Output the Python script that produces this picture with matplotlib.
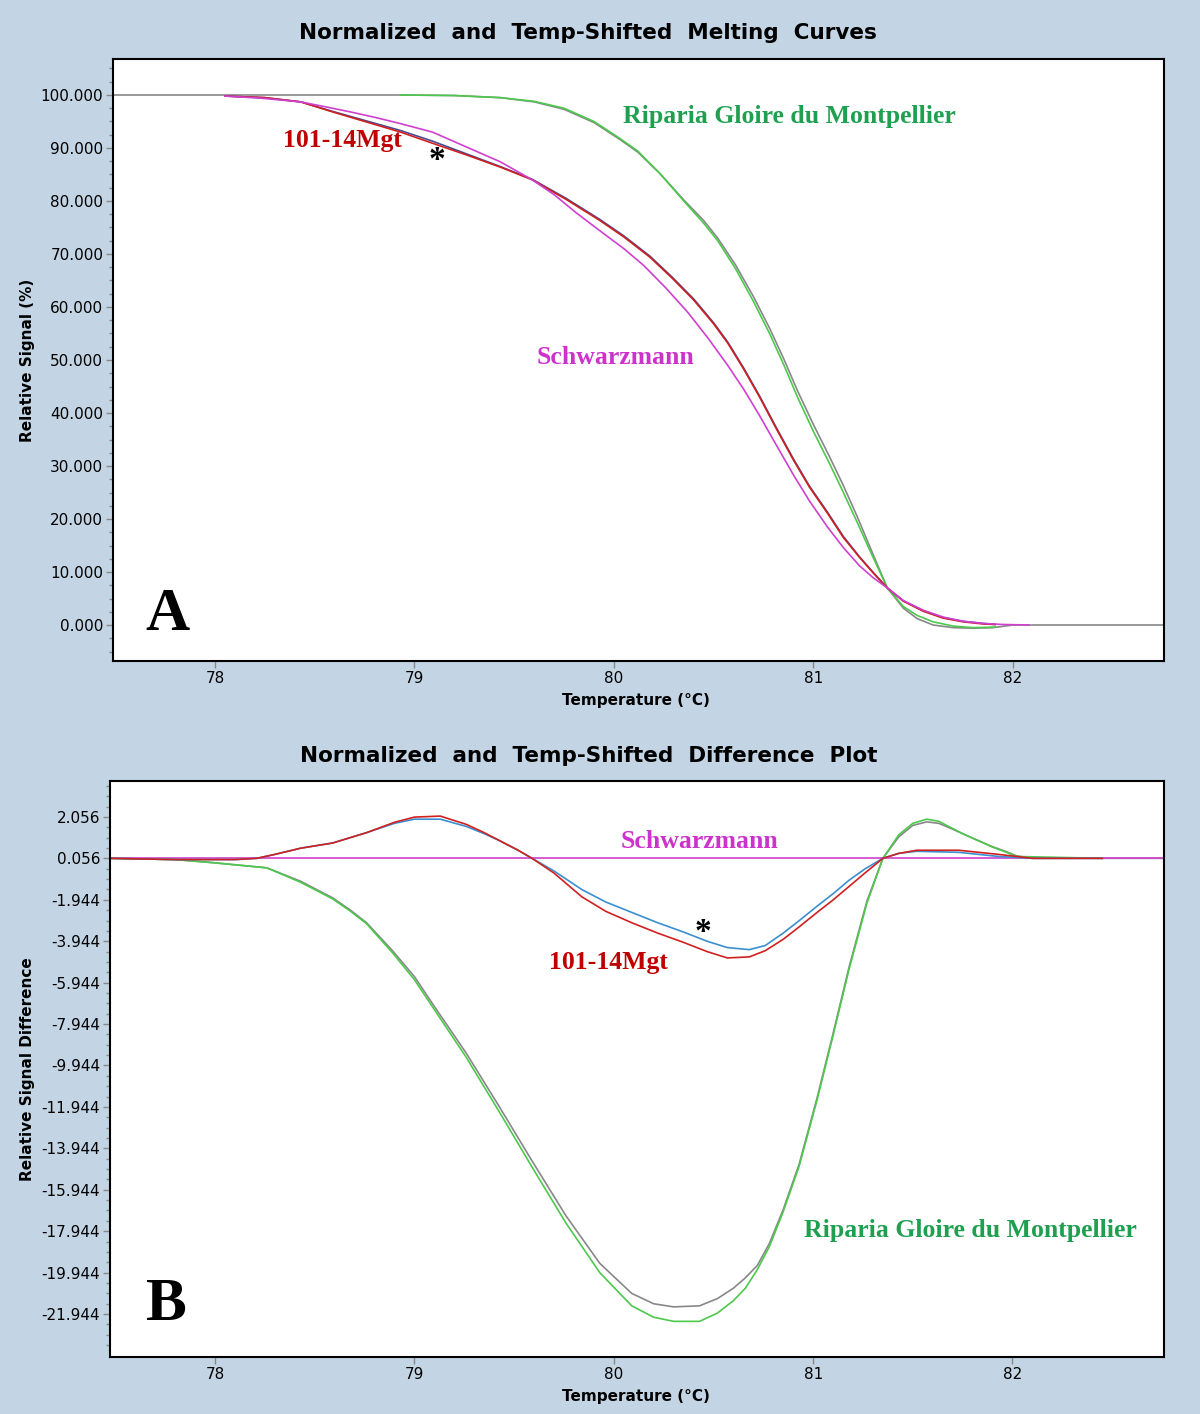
import numpy as np
import matplotlib
matplotlib.use("Agg")
import matplotlib.pyplot as plt
from matplotlib.ticker import MultipleLocator, FixedLocator, FormatStrFormatter

# ---- top panel: normalized melting curves (temperature, relative signal %) ----
rip_t = [78.93, 79.20, 79.43, 79.60, 79.75, 79.90, 80.03, 80.12, 80.23, 80.35, 80.45, 80.52,
         80.61, 80.70, 80.78, 80.85, 80.92, 81.00, 81.08, 81.15, 81.22, 81.28, 81.37, 81.45,
         81.52, 81.60, 81.70, 81.80, 81.91]
rip_y = [100.0, 99.9, 99.5, 98.8, 97.5, 95.0, 91.8, 89.4, 85.2, 80.0, 75.8, 72.5,
         67.2, 61.0, 55.0, 49.2, 43.0, 36.5, 30.5, 25.0, 19.3, 14.3, 7.0, 3.5,
         1.8, 0.6, -0.2, -0.5, -0.4]

rip2_t = [77.49, 78.50, 78.93, 79.20, 79.43, 79.60, 79.75, 79.90, 80.03, 80.12, 80.23, 80.35,
          80.45, 80.52, 80.61, 80.70, 80.78, 80.85, 80.92, 81.00, 81.08, 81.15, 81.22, 81.28,
          81.37, 81.45, 81.52, 81.60, 81.70, 81.80, 81.90, 82.00, 82.757]
rip2_y = [100.0, 100.0, 100.0, 99.9, 99.5, 98.7, 97.3, 94.8, 91.6, 89.2, 85.2, 80.2,
          76.3, 73.0, 67.9, 61.9, 56.0, 50.3, 44.2, 37.8, 31.8, 26.3, 20.4, 15.0,
          7.0, 3.2, 1.2, 0.0, -0.5, -0.6, -0.5, 0.0, 0.0]

mgt_t = [78.05, 78.25, 78.43, 78.59, 78.76, 78.93, 79.09, 79.26, 79.43, 79.59, 79.76, 79.93,
         80.05, 80.18, 80.29, 80.40, 80.50, 80.57, 80.65, 80.73, 80.81, 80.90, 80.98, 81.07,
         81.15, 81.23, 81.30, 81.37, 81.45, 81.55, 81.65, 81.75, 81.85, 81.91]
mgt_y = [99.8, 99.5, 98.7, 96.8, 94.9, 93.0, 90.9, 88.7, 86.4, 84.0, 80.3, 76.3,
         73.2, 69.4, 65.5, 61.3, 56.8, 53.2, 48.3, 43.0, 37.3, 31.1, 26.0, 21.1,
         16.5, 12.8, 9.8, 7.0, 4.5, 2.6, 1.3, 0.6, 0.2, 0.1]
mgt2_y = [99.8, 99.5, 98.7, 96.9, 95.1, 93.3, 91.3, 88.9, 86.5, 84.1, 80.5, 76.5,
          73.4, 69.6, 65.7, 61.5, 57.0, 53.4, 48.5, 43.2, 37.5, 31.3, 26.2, 21.3,
          16.7, 12.9, 9.9, 7.0, 4.6, 2.7, 1.4, 0.7, 0.3, 0.1]

sch_t = [78.05, 78.23, 78.43, 78.55, 78.68, 78.80, 78.93, 79.09, 79.26, 79.43, 79.59, 79.70,
         79.81, 79.95, 80.05, 80.15, 80.26, 80.37, 80.47, 80.57, 80.65, 80.73, 80.81, 80.90,
         80.98, 81.07, 81.15, 81.23, 81.30, 81.37, 81.45, 81.55, 81.65, 81.75, 81.85, 81.95, 82.08]
sch_y = [99.8, 99.4, 98.7, 97.8, 96.8, 95.8, 94.6, 93.0, 90.2, 87.4, 84.0, 81.2,
         77.8, 73.8, 71.0, 67.8, 63.6, 59.0, 54.2, 49.0, 44.5, 39.5, 34.2, 28.3,
         23.4, 18.5, 14.6, 11.2, 8.9, 7.0, 4.6, 2.8, 1.5, 0.7, 0.3, 0.1, 0.0]

# ---- bottom panel: difference plot (temperature, relative signal difference) ----
d_sch_t = [77.47, 82.76]
d_sch_y = [0.056, 0.056]

d_red_t = [77.47, 77.80, 78.10, 78.21, 78.30, 78.43, 78.59, 78.76, 78.90, 79.00, 79.13, 79.26,
           79.35, 79.43, 79.52, 79.59, 79.70, 79.84, 79.96, 80.09, 80.22, 80.35, 80.47, 80.57,
           80.68, 80.76, 80.85, 80.93, 81.02, 81.10, 81.18, 81.26, 81.35, 81.43, 81.52, 81.73,
           81.93, 82.10, 82.45]
d_red_y = [0.06, 0.0, 0.0, 0.06, 0.25, 0.55, 0.80, 1.30, 1.80, 2.05, 2.10, 1.70,
           1.30, 0.90, 0.45, 0.06, -0.65, -1.80, -2.50, -3.05, -3.55, -4.00, -4.45, -4.75,
           -4.70, -4.40, -3.85, -3.25, -2.55, -1.95, -1.30, -0.65, 0.06, 0.30, 0.45, 0.45,
           0.25, 0.06, 0.06]
d_blue_y = [0.06, 0.0, 0.0, 0.06, 0.25, 0.55, 0.80, 1.30, 1.75, 1.95, 1.95, 1.60,
            1.25, 0.90, 0.45, 0.06, -0.55, -1.45, -2.05, -2.55, -3.05, -3.50, -3.95, -4.25,
            -4.35, -4.15, -3.55, -2.95, -2.25, -1.65, -1.00, -0.45, 0.06, 0.30, 0.40, 0.35,
            0.15, 0.06, 0.06]

d_rip_t = [77.47, 77.80, 77.99, 78.26, 78.43, 78.59, 78.68, 78.76, 78.89, 79.00, 79.09, 79.26,
           79.43, 79.59, 79.76, 79.93, 80.09, 80.20, 80.30, 80.43, 80.52, 80.60, 80.66, 80.72,
           80.78, 80.85, 80.93, 81.02, 81.10, 81.18, 81.27, 81.35, 81.43, 81.50, 81.57, 81.63,
           81.68, 81.75, 81.82, 81.90, 81.97, 82.02, 82.45]
d_rip_y = [0.06, 0.0, -0.15, -0.40, -1.10, -1.90, -2.50, -3.10, -4.50, -5.80, -7.10, -9.55,
           -12.25, -14.85, -17.55, -19.95, -21.55, -22.10, -22.30, -22.30, -21.90, -21.30, -20.70, -19.80,
           -18.70, -17.00, -14.80, -11.60, -8.50, -5.30, -2.10, 0.06, 1.20, 1.75, 1.95, 1.85,
           1.60, 1.25, 0.95, 0.60, 0.35, 0.15, 0.06]
d_rip2_t = d_rip_t[:-1] + [82.10, 82.76]
d_rip2_y = [0.06, 0.0, -0.15, -0.40, -1.05, -1.85, -2.45, -3.05, -4.40, -5.65, -6.95, -9.35,
            -12.00, -14.55, -17.20, -19.50, -20.95, -21.45, -21.60, -21.55, -21.20, -20.70, -20.20, -19.60,
            -18.55, -16.90, -14.70, -11.50, -8.40, -5.20, -2.00, 0.06, 1.10, 1.65, 1.82, 1.75,
            1.55, 1.25, 0.95, 0.62, 0.38, 0.18, 0.06, 0.06]

ytick_b = [2.056 - 2 * k for k in range(13)]

BG = '#c3d5e4'
C_GREEN = '#4cc94c'
C_GRAY = '#888888'
C_RED = '#d02020'
C_BLUE = '#3a8fd0'
C_MAG = '#d040d0'
T_RED = '#c00000'
T_GREEN = '#1ea050'
T_MAG = '#cc33cc'

fig = plt.figure(figsize=(12, 14.14), dpi=100, facecolor=BG)
ax1 = fig.add_axes([113 / 1200, 1 - 661 / 1414, 1051 / 1200, 602 / 1414])
ax2 = fig.add_axes([110 / 1200, 1 - 1357 / 1414, 1054 / 1200, 576 / 1414])

lw = 1.2
ax1.plot(rip2_t, rip2_y, color=C_GRAY, lw=lw)
ax1.plot(rip_t, rip_y, color=C_GREEN, lw=lw)
ax1.plot(mgt_t, mgt2_y, color='#4a4a90', lw=lw)
ax1.plot(mgt_t, mgt_y, color=C_RED, lw=lw)
ax1.plot(sch_t, sch_y, color=C_MAG, lw=lw)

ax2.plot(d_rip2_t, d_rip2_y, color=C_GRAY, lw=lw)
ax2.plot(d_sch_t, d_sch_y, color=C_MAG, lw=lw)
ax2.plot(d_rip_t, d_rip_y, color=C_GREEN, lw=lw)
ax2.plot(d_red_t, d_blue_y, color=C_BLUE, lw=lw)
ax2.plot(d_red_t, d_red_y, color=C_RED, lw=lw)

ax1.set_xlim(77.489, 82.757)
ax1.set_ylim(-6.79, 106.79)
ax1.yaxis.set_major_locator(MultipleLocator(10))
ax1.yaxis.set_minor_locator(MultipleLocator(2.5))
ax1.yaxis.set_major_formatter(FormatStrFormatter('%.3f'))

ax2.set_xlim(77.473, 82.76)
ax2.set_ylim(-24.021, 3.794)
ax2.yaxis.set_major_locator(FixedLocator(ytick_b))
ax2.yaxis.set_minor_locator(FixedLocator([v + 0.5 * j for v in [-23.944] + ytick_b for j in (1, 2, 3)]))
ax2.yaxis.set_major_formatter(FormatStrFormatter('%.3f'))

for ax in (ax1, ax2):
    ax.set_facecolor('white')
    ax.xaxis.set_major_locator(FixedLocator([78, 79, 80, 81, 82]))
    ax.xaxis.set_major_formatter(FormatStrFormatter('%d'))
    ax.tick_params(which='major', direction='out', length=5, width=1, color=C_GRAY,
                   labelsize=11, labelcolor='black', pad=2)
    ax.tick_params(which='minor', direction='out', length=3, width=1, color=C_GRAY)
    for s in ax.spines.values():
        s.set_linewidth(1.5)
        s.set_color('black')

def ftxt(x, y, s, **kw):
    fig.text(x / 1200, 1 - y / 1414, s, ha='center', va='center', **kw)

title_kw = dict(fontsize=15.5, fontweight='heavy', family='DejaVu Sans')
ftxt(588, 33, 'Normalized  and  Temp-Shifted  Melting  Curves', **title_kw)
ftxt(589, 756, 'Normalized  and  Temp-Shifted  Difference  Plot', **title_kw)

lab_kw = dict(fontsize=11, fontweight='bold', family='DejaVu Sans')
ftxt(28, 360, 'Relative Signal (%)', rotation=90, **lab_kw)
ftxt(28, 1069, 'Relative Signal Difference', rotation=90, **lab_kw)
ftxt(636, 701, 'Temperature (\u00b0C)', **lab_kw)
ftxt(636, 1397, 'Temperature (\u00b0C)', **lab_kw)

ser = dict(family='Liberation Serif', fontweight='bold', fontsize=18.5)
ftxt(342, 141, '101-14Mgt', color=T_RED, **ser)
ftxt(437, 160, '*', color='black', family='Liberation Serif', fontweight='bold', fontsize=24)
ftxt(789, 117, 'Riparia Gloire du Montpellier', color=T_GREEN, **ser)
ftxt(615, 358, 'Schwarzmann', color=T_MAG, **ser)
ftxt(167, 615, 'A', color='black', family='Liberation Serif', fontweight='bold', fontsize=44)

ftxt(700, 842, 'Schwarzmann', color=T_MAG, **ser)
ftxt(703, 933, '*', color='black', family='Liberation Serif', fontweight='bold', fontsize=24)
ftxt(608, 963, '101-14Mgt', color=T_RED, **ser)
ftxt(970, 1230, 'Riparia Gloire du Montpellier', color=T_GREEN, **ser)
ftxt(166, 1305, 'B', color='black', family='Liberation Serif', fontweight='bold', fontsize=44)

fig.savefig('out.png', dpi=100, facecolor=BG)
